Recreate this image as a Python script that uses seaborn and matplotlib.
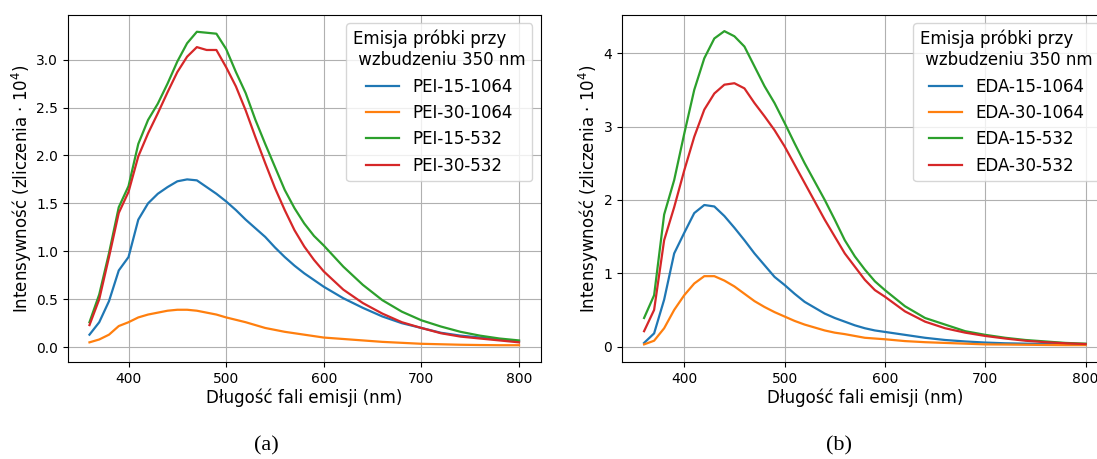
import numpy as np
import pandas as pd
import matplotlib
matplotlib.use("Agg")
import matplotlib.pyplot as plt
import seaborn as sns

# Common wavelength grid (nm)
wavelength = [360, 370, 380, 390, 400, 410, 420, 430, 440, 450, 460, 470, 480, 490,
              500, 510, 520, 530, 540, 550, 560, 570, 580, 590, 600,
              620, 640, 660, 680, 700, 720, 740, 760, 780, 800]

# Panel (a): PEI samples (intensity in 10^4 counts)
pei_labels = ["PEI-15-1064", "PEI-30-1064", "PEI-15-532", "PEI-30-532"]
pei_15_1064 = [0.13, 0.26, 0.48, 0.80, 0.94, 1.33, 1.50, 1.60, 1.67, 1.73, 1.75, 1.74, 1.67, 1.60,
               1.52, 1.43, 1.33, 1.24, 1.15, 1.04, 0.94, 0.85, 0.77, 0.70, 0.63,
               0.51, 0.41, 0.32, 0.25, 0.20, 0.15, 0.12, 0.10, 0.08, 0.06]
pei_30_1064 = [0.05, 0.08, 0.13, 0.22, 0.26, 0.31, 0.34, 0.36, 0.38, 0.39, 0.39, 0.38, 0.36, 0.34,
               0.31, 0.285, 0.26, 0.23, 0.20, 0.18, 0.16, 0.145, 0.13, 0.115, 0.10,
               0.085, 0.07, 0.055, 0.045, 0.035, 0.03, 0.025, 0.022, 0.02, 0.02]
pei_15_532 = [0.26, 0.55, 0.98, 1.46, 1.68, 2.12, 2.37, 2.54, 2.75, 2.98, 3.17, 3.29, 3.28, 3.27,
              3.11, 2.87, 2.65, 2.37, 2.12, 1.88, 1.64, 1.45, 1.29, 1.16, 1.06,
              0.84, 0.65, 0.49, 0.37, 0.28, 0.215, 0.16, 0.12, 0.09, 0.07]
pei_30_532 = [0.23, 0.50, 0.94, 1.40, 1.62, 1.99, 2.23, 2.44, 2.66, 2.87, 3.03, 3.13, 3.10, 3.10,
              2.92, 2.72, 2.47, 2.19, 1.92, 1.66, 1.43, 1.22, 1.05, 0.91, 0.79,
              0.60, 0.46, 0.35, 0.26, 0.20, 0.145, 0.11, 0.09, 0.07, 0.05]

# Panel (b): EDA samples
eda_labels = ["EDA-15-1064", "EDA-30-1064", "EDA-15-532", "EDA-30-532"]
eda_15_1064 = [0.05, 0.18, 0.64, 1.27, 1.55, 1.82, 1.93, 1.91, 1.78, 1.62, 1.45, 1.27, 1.11, 0.95,
               0.84, 0.72, 0.61, 0.53, 0.45, 0.39, 0.34, 0.29, 0.25, 0.22, 0.20,
               0.16, 0.12, 0.09, 0.07, 0.055, 0.045, 0.04, 0.035, 0.03, 0.03]
eda_30_1064 = [0.03, 0.08, 0.25, 0.50, 0.70, 0.86, 0.96, 0.96, 0.90, 0.82, 0.72, 0.62, 0.54, 0.47,
               0.41, 0.35, 0.30, 0.26, 0.22, 0.19, 0.17, 0.145, 0.12, 0.11, 0.10,
               0.075, 0.06, 0.05, 0.04, 0.03, 0.028, 0.025, 0.022, 0.02, 0.02]
eda_15_532 = [0.39, 0.70, 1.80, 2.27, 2.90, 3.50, 3.93, 4.20, 4.30, 4.23, 4.09, 3.82, 3.55, 3.32,
              3.05, 2.77, 2.50, 2.25, 2.00, 1.73, 1.45, 1.23, 1.05, 0.89, 0.77,
              0.55, 0.39, 0.30, 0.21, 0.16, 0.12, 0.09, 0.07, 0.05, 0.04]
eda_30_532 = [0.21, 0.50, 1.45, 1.90, 2.40, 2.86, 3.23, 3.45, 3.57, 3.59, 3.52, 3.32, 3.14, 2.95,
              2.73, 2.48, 2.23, 1.98, 1.73, 1.50, 1.27, 1.09, 0.91, 0.77, 0.68,
              0.48, 0.34, 0.25, 0.19, 0.145, 0.11, 0.08, 0.06, 0.045, 0.035]

legend_title = "Emisja próbki przy\n wzbudzeniu 350 nm"
xlabel = "Długość fali emisji (nm)"
ylabel = "Intensywność (zliczenia · 10$^4$)"
captions = ["(a)", "(b)"]
palette = ["#1f77b4", "#ff7f0e", "#2ca02c", "#d62728"]


def make_df(labels, series):
    frames = []
    for lab, vals in zip(labels, series):
        frames.append(pd.DataFrame({"wl": wavelength, "val": vals, "series": lab}))
    return pd.concat(frames, ignore_index=True)


df_a = make_df(pei_labels, [pei_15_1064, pei_30_1064, pei_15_532, pei_30_532])
df_b = make_df(eda_labels, [eda_15_1064, eda_30_1064, eda_15_532, eda_30_532])

W, H = 1097, 459
fig = plt.figure(figsize=(W / 100, H / 100), dpi=100)
ax_a = fig.add_axes([68 / W, 97 / H, 472.5 / W, 347 / H])
ax_b = fig.add_axes([622 / W, 97 / H, 485.7 / W, 347 / H])

for ax, df, labels in [(ax_a, df_a, pei_labels), (ax_b, df_b, eda_labels)]:
    sns.lineplot(data=df, x="wl", y="val", hue="series", hue_order=labels,
                 palette=palette, linewidth=1.6, ax=ax)
    ax.grid(True, color="#b0b0b0", linewidth=0.8)
    ax.set_axisbelow(True)
    ax.set_xlabel(xlabel, fontsize=12, labelpad=2)
    ax.set_ylabel(ylabel, fontsize=12, labelpad=1.5)
    ax.tick_params(labelsize=10)
    ax.set_xticks([400, 500, 600, 700, 800])
    ax.set_xlim(338, 822)
    ax.legend(title=legend_title, fontsize=12, title_fontsize=12, loc="upper right")

ax_a.set_ylim(-0.155, 3.465)
ax_a.set_yticks([0.0, 0.5, 1.0, 1.5, 2.0, 2.5, 3.0])
ax_b.set_ylim(-0.21, 4.52)
ax_b.set_yticks([0, 1, 2, 3, 4])

fig.text(266.5 / W, 1 - 446 / H, captions[0], ha="center", va="center",
         fontsize=16, family="Liberation Serif")
fig.text(839 / W, 1 - 446 / H, captions[1], ha="center", va="center",
         fontsize=16, family="Liberation Serif")

fig.savefig("out.png", dpi=100)
